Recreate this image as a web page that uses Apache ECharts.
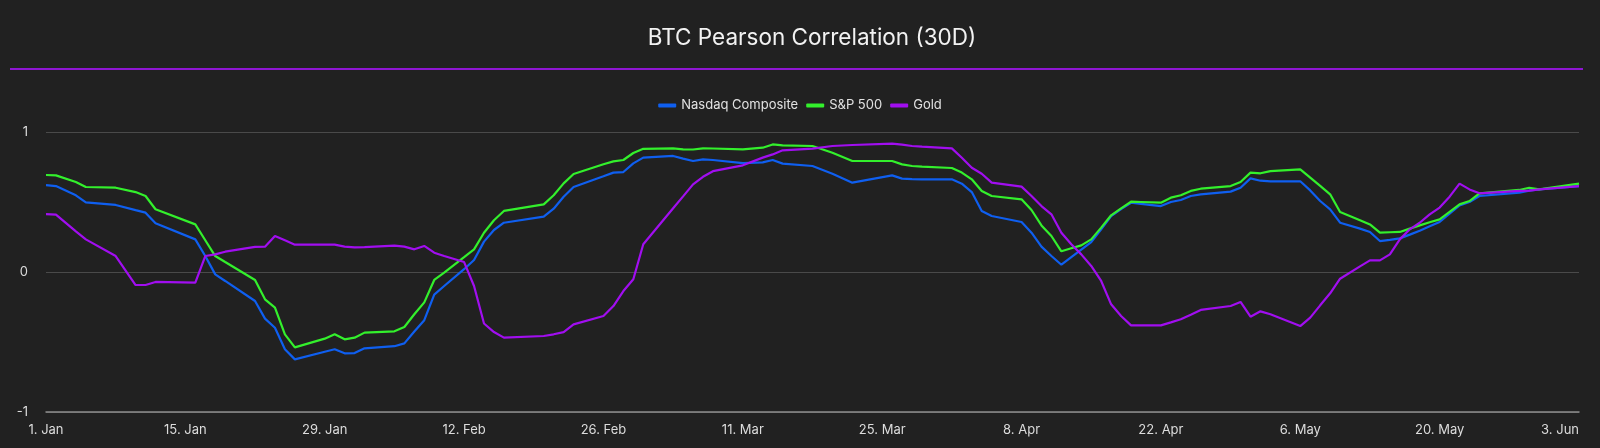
<!DOCTYPE html>
<html>
<head>
<meta charset="utf-8">
<script src="https://cdn.jsdelivr.net/npm/echarts@6/dist/echarts.min.js"></script>
<style>
  html, body { margin: 0; padding: 0; background: #212121; }
  #chart { width: 1600px; height: 448px; }
</style>
</head>
<body>
<div id="chart"></div>
<script>
// ---- data ----
const dates = [
  '2024-01-01','2024-01-02','2024-01-04','2024-01-05','2024-01-08','2024-01-10','2024-01-11','2024-01-12',
  '2024-01-16','2024-01-17','2024-01-18','2024-01-19','2024-01-22','2024-01-23','2024-01-24','2024-01-25','2024-01-26',
  '2024-01-29','2024-01-30','2024-01-31','2024-02-01','2024-02-02','2024-02-05','2024-02-06','2024-02-07','2024-02-08',
  '2024-02-09','2024-02-10','2024-02-12','2024-02-13','2024-02-14','2024-02-15','2024-02-16','2024-02-20','2024-02-21',
  '2024-02-22','2024-02-23','2024-02-26','2024-02-27','2024-02-28','2024-02-29','2024-03-01','2024-03-04','2024-03-05',
  '2024-03-06','2024-03-07','2024-03-08','2024-03-11','2024-03-13','2024-03-14','2024-03-15','2024-03-18','2024-03-20',
  '2024-03-22','2024-03-26','2024-03-27','2024-03-28','2024-03-29','2024-04-01','2024-04-02','2024-04-03','2024-04-04',
  '2024-04-05','2024-04-08','2024-04-09','2024-04-10','2024-04-11','2024-04-12','2024-04-13','2024-04-14','2024-04-15',
  '2024-04-16','2024-04-17','2024-04-18','2024-04-19','2024-04-20','2024-04-22','2024-04-23','2024-04-24','2024-04-25',
  '2024-04-26','2024-04-29','2024-04-30','2024-05-01','2024-05-02','2024-05-03','2024-05-06','2024-05-07','2024-05-08',
  '2024-05-09','2024-05-10','2024-05-12','2024-05-13','2024-05-14','2024-05-15','2024-05-16','2024-05-17','2024-05-18',
  '2024-05-19','2024-05-20','2024-05-21','2024-05-22','2024-05-23','2024-05-24','2024-05-28','2024-05-29','2024-05-30',
  '2024-06-03'
];

const nasdaq = [
  0.62,0.614,0.548,0.498,0.479,0.442,0.424,0.348,
  0.233,0.114,-0.017,-0.064,-0.207,-0.333,-0.398,-0.552,-0.624,
  -0.57,-0.552,-0.581,-0.579,-0.545,-0.53,-0.51,-0.425,-0.344,
  -0.162,-0.1,0.02,0.086,0.217,0.3,0.352,0.395,0.452,
  0.538,0.607,0.684,0.71,0.714,0.776,0.817,0.829,0.81,
  0.793,0.805,0.8,0.778,0.783,0.8,0.774,0.757,0.702,
  0.638,0.69,0.667,0.664,0.662,0.662,0.631,0.571,0.436,
  0.4,0.357,0.281,0.181,0.114,0.052,0.106,0.16,0.214,
  0.305,0.4,0.45,0.495,0.486,0.471,0.5,0.514,0.543,
  0.555,0.574,0.602,0.669,0.652,0.648,0.648,0.583,0.507,
  0.448,0.352,0.31,0.286,0.221,0.23,0.24,0.267,0.295,
  0.326,0.357,0.416,0.476,0.5,0.543,0.567,0.581,0.59,
  0.614
];

const sp500 = [
  0.693,0.69,0.643,0.607,0.602,0.571,0.543,0.448,
  0.34,0.227,0.114,0.071,-0.057,-0.195,-0.255,-0.445,-0.538,
  -0.476,-0.445,-0.481,-0.469,-0.433,-0.424,-0.393,-0.302,-0.217,
  -0.057,-0.005,0.106,0.162,0.28,0.37,0.436,0.483,0.548,
  0.633,0.7,0.77,0.79,0.8,0.85,0.88,0.883,0.876,
  0.875,0.883,0.882,0.876,0.888,0.911,0.905,0.9,0.852,
  0.793,0.793,0.769,0.757,0.752,0.743,0.71,0.662,0.579,
  0.543,0.519,0.443,0.333,0.257,0.148,0.17,0.19,0.233,
  0.317,0.405,0.455,0.502,0.5,0.495,0.531,0.548,0.579,
  0.595,0.614,0.643,0.71,0.705,0.721,0.733,0.674,0.615,
  0.555,0.429,0.37,0.34,0.281,0.284,0.286,0.31,0.333,
  0.355,0.376,0.43,0.483,0.507,0.562,0.586,0.602,0.59,
  0.631
];

const gold = [
  0.414,0.41,0.29,0.233,0.114,-0.093,-0.093,-0.071,
  -0.076,0.114,0.126,0.145,0.179,0.181,0.257,0.226,0.195,
  0.195,0.195,0.181,0.176,0.178,0.188,0.181,0.162,0.186,
  0.138,0.114,0.071,-0.1,-0.368,-0.429,-0.469,-0.457,-0.445,
  -0.429,-0.374,-0.314,-0.243,-0.136,-0.052,0.198,0.455,0.54,
  0.626,0.68,0.72,0.762,0.817,0.84,0.869,0.881,0.9,
  0.907,0.917,0.91,0.9,0.895,0.883,0.816,0.745,0.702,
  0.638,0.61,0.543,0.471,0.412,0.281,0.198,0.126,0.043,
  -0.064,-0.231,-0.314,-0.381,-0.381,-0.381,-0.36,-0.338,-0.305,
  -0.271,-0.243,-0.214,-0.319,-0.281,-0.302,-0.386,-0.326,-0.238,
  -0.152,-0.048,0.04,0.083,0.083,0.126,0.233,0.305,0.352,
  0.412,0.46,0.538,0.631,0.59,0.562,0.579,0.581,0.59,
  0.614
];

const seriesNames = ['Nasdaq Composite', 'S&P 500', 'Gold'];
const monthNames = ['Jan','Feb','Mar','Apr','May','Jun','Jul','Aug','Sep','Oct','Nov','Dec'];
const yTickLabels = { '1': '1', '0': '0', '-1': '-1' };
const startDate = '2024-01-01';
const endDate = '2024-06-03';

// ---- helpers ----
const DAY = 86400000;
function toUTC(s) { const p = s.split('-').map(Number); return Date.UTC(p[0], p[1] - 1, p[2]); }
const t0 = toUTC(startDate);
function dayIndex(s) { return Math.round((toUTC(s) - t0) / DAY); }
function dayLabel(v) {
  const d = new Date(t0 + v * DAY);
  return d.getUTCDate() + '. ' + monthNames[d.getUTCMonth()];
}
function pairs(vals) { return dates.map((d, i) => [dayIndex(d), vals[i]]); }

const colors = ['#0f5ff0', '#33f02c', '#a10ef0'];
const FONT = 'Inter, "Noto Sans", sans-serif';

const chart = echarts.init(document.getElementById('chart'), null, { renderer: 'canvas' });
chart.setOption({
  animation: false,
  backgroundColor: '#212121',
  color: colors,
  title: {
    text: 'BTC Pearson Correlation (30D)',
    left: 807,
    top: 22,
    textAlign: 'center',
    textStyle: { color: '#f2f2f2', fontSize: 22.5, fontWeight: 'normal', fontFamily: FONT }
  },
  graphic: [{
    type: 'line',
    shape: { x1: 10, y1: 69, x2: 1583, y2: 69 },
    style: { stroke: '#8e16d2', lineWidth: 2 },
    silent: true
  }],
  legend: {
    top: 94,
    left: 'center',
    itemWidth: 18,
    itemHeight: 4,
    itemGap: 8,
    icon: 'roundRect',
    textStyle: { color: '#e2e2e2', fontSize: 13, fontFamily: FONT },
    data: seriesNames
  },
  grid: { left: 46, right: 21, top: 132, bottom: 36, containLabel: false },
  xAxis: {
    type: 'value',
    min: 0,
    max: dayIndex(endDate),
    interval: 14,
    splitLine: { show: false },
    axisTick: { show: false },
    axisLine: { show: true, onZero: false, lineStyle: { color: '#8d8d8d', width: 1.5 } },
    axisLabel: {
      color: '#dcdcdc',
      fontSize: 13,
      fontFamily: FONT,
      margin: 12,
      showMaxLabel: true,
      alignMaxLabel: 'right',
      formatter: dayLabel
    }
  },
  yAxis: {
    type: 'value',
    min: -1,
    max: 1,
    interval: 1,
    axisLine: { show: false },
    axisTick: { show: false },
    splitLine: { lineStyle: { color: '#4a4a4a', width: 1.2 } },
    axisLabel: {
      color: '#dcdcdc',
      fontSize: 13,
      fontFamily: FONT,
      margin: 18,
      formatter: v => yTickLabels[String(v)] ?? String(v)
    }
  },
  series: [
    { name: seriesNames[0], type: 'line', data: pairs(nasdaq), showSymbol: false, symbol: 'none', lineStyle: { width: 2.2 }, z: 3 },
    { name: seriesNames[1], type: 'line', data: pairs(sp500), showSymbol: false, symbol: 'none', lineStyle: { width: 2.2 }, z: 4 },
    { name: seriesNames[2], type: 'line', data: pairs(gold), showSymbol: false, symbol: 'none', lineStyle: { width: 2.2 }, z: 5 }
  ]
});
</script>
</body>
</html>
